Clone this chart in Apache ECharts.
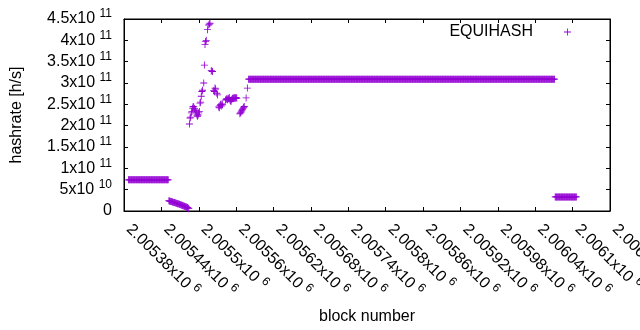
<!DOCTYPE html>
<html>
<head>
<meta charset="utf-8">
<title>EQUIHASH hashrate</title>
<script src="https://cdn.jsdelivr.net/npm/echarts@6/dist/echarts.min.js"></script>
<style>
  html, body { margin: 0; padding: 0; background: #fff; }
  #chart { width: 640px; height: 330px; }
</style>
</head>
<body>
<div id="chart"></div>
<script>
// tick labels (x is block number / 10^6, y is hashrate)
const xTickLabels = ['2.00538', '2.00544', '2.0055', '2.00556', '2.00562', '2.00568', '2.00574',
  '2.0058', '2.00586', '2.00592', '2.00598', '2.00604', '2.0061', '2.00616'];
const yTickLabels = ['0', '5x10', '1x10', '1.5x10', '2x10', '2.5x10', '3x10', '3.5x10', '4x10', '4.5x10'];
const yTickExps = ['', '10', '11', '11', '11', '11', '11', '11', '11', '11'];

// stretches with the same hashrate on every block: [first block, last block, h/s]
const flatRuns = [
  [2005387, 2005451, 7.3e10],
  [2005580, 2006071, 3.09e11],
  [2006072, 2006106, 3.3e10]
];

// the slide after the first stretch
const dropBlocks = [2005452, 2005453, 2005454, 2005455, 2005456, 2005457, 2005458, 2005459, 2005460,
  2005461, 2005462, 2005463, 2005464, 2005465, 2005466, 2005467, 2005468, 2005469, 2005470, 2005471,
  2005472, 2005473, 2005474, 2005475, 2005476, 2005477, 2005478, 2005479, 2005480, 2005481, 2005482,
  2005483, 2005484];
const dropRates = [2.40e10, 2.36e10, 2.31e10, 2.25e10, 2.22e10, 2.17e10, 2.12e10, 2.07e10, 2.02e10,
  1.98e10, 1.93e10, 1.88e10, 1.82e10, 1.78e10, 1.72e10, 1.68e10, 1.62e10, 1.57e10, 1.52e10, 1.47e10,
  1.42e10, 1.36e10, 1.31e10, 1.25e10, 1.2e10, 1.14e10, 1.08e10, 1.02e10, 0.95e10, 0.88e10, 0.8e10,
  0.7e10, 0.55e10];

// the unstable part before the long flat stretch
const wildBlocks = [
  2005485, 2005486, 2005487, 2005488, 2005489, 2005490, 2005491, 2005492, 2005493, 2005494,
  2005495, 2005496, 2005497, 2005498, 2005499, 2005500, 2005501, 2005502, 2005503, 2005504,
  2005505, 2005506, 2005508, 2005509, 2005510, 2005511, 2005512, 2005514, 2005516, 2005517,
  2005518, 2005520, 2005521, 2005522, 2005524, 2005525, 2005526, 2005527, 2005529, 2005530,
  2005532, 2005533, 2005534, 2005535, 2005536, 2005537, 2005538, 2005543, 2005544, 2005545,
  2005546, 2005547, 2005548, 2005549, 2005550, 2005551, 2005552, 2005553, 2005554, 2005555,
  2005556, 2005557, 2005558, 2005559, 2005560, 2005561, 2005566, 2005567, 2005568, 2005569,
  2005570, 2005571, 2005572, 2005573, 2005576, 2005578
];
const wildRates = [
  2.04e11, 2.18e11, 2.2e11, 2.3e11, 2.33e11, 2.41e11, 2.45e11, 2.44e11, 2.4e11, 2.37e11,
  2.35e11, 2.3e11, 2.25e11, 2.22e11, 2.25e11, 2.3e11, 2.33e11, 2.53e11, 2.55e11, 2.69e11,
  2.8e11, 2.83e11, 3.0e11, 3.42e11, 3.9e11, 3.97e11, 4.0e11, 4.25e11, 4.36e11, 4.38e11,
  4.4e11, 3.29e11, 3.28e11, 3.27e11, 2.82e11, 2.8e11, 2.88e11, 2.86e11, 2.76e11, 2.72e11,
  2.44e11, 2.42e11, 2.47e11, 2.5e11, 2.46e11, 2.51e11, 2.49e11, 2.6e11, 2.62e11, 2.63e11,
  2.61e11, 2.64e11, 2.63e11, 2.66e11, 2.6e11, 2.58e11, 2.57e11, 2.62e11, 2.64e11, 2.63e11,
  2.65e11, 2.66e11, 2.64e11, 2.65e11, 2.66e11, 2.64e11, 2.28e11, 2.3e11, 2.32e11, 2.35e11,
  2.38e11, 2.4e11, 2.43e11, 2.45e11, 2.65e11, 2.88e11
];

let points = [];
flatRuns.forEach(function (r) {
  for (let b = r[0]; b <= r[1]; b++) points.push([b, r[2]]);
});
dropBlocks.forEach(function (b, i) { points.push([b, dropRates[i]]); });
wildBlocks.forEach(function (b, i) { points.push([b, wildRates[i]]); });

// gnuplot style "+" point
const plus = 'path://M0,4.4H10V5.6H0Z M4.4,0H5.6V10H4.4Z';
const font = 'Liberation Sans, Arial, sans-serif';
const rich = {
  m: { fontSize: 16, fontFamily: font, color: '#000' },
  xm: { fontSize: 16, fontFamily: font, color: '#000', padding: [0, 0, 0, 7] },
  s: { fontSize: 12, fontFamily: font, color: '#000', padding: [0, 0, 10, 0] }
};

let chart = echarts.init(document.getElementById('chart'));
chart.setOption({
  animation: false,
  grid: {
    left: 124, right: 30, top: 19, bottom: 119,
    containLabel: false, outerBoundsMode: 'none',
    show: true, borderColor: '#000', borderWidth: 1
  },
  legend: {
    data: ['EQUIHASH'],
    right: 64, top: 19,
    align: 'right',
    icon: plus,
    itemWidth: 7, itemHeight: 7,
    itemStyle: { color: '#9400d3' },
    textStyle: { fontSize: 16, fontFamily: font, color: '#000', padding: [0, 26, 0, 0] }
  },
  xAxis: [{
    type: 'value',
    min: 2005380, max: 2006160, interval: 60,
    name: 'block number',
    nameLocation: 'middle',
    nameGap: 98,
    nameTextStyle: { fontSize: 16, fontFamily: font, color: '#000' },
    axisLine: { show: true, onZero: false, lineStyle: { color: '#000', width: 1 } },
    axisTick: { show: true, inside: true, length: 4, lineStyle: { color: '#000' } },
    splitLine: { show: false },
    axisLabel: {
      rotate: -45, margin: 11,
      showMinLabel: true, showMaxLabel: true,
      formatter: function (v) {
        let i = Math.round((v - 2005380) / 60);
        return '{xm|' + xTickLabels[i] + 'x10 }{s|6}';
      },
      rich: rich
    }
  }, {
    type: 'value', position: 'top',
    min: 2005380, max: 2006160, interval: 60,
    axisLine: { show: true, onZero: false, lineStyle: { color: '#000' } },
    axisTick: { show: true, inside: true, length: 4, lineStyle: { color: '#000' } },
    axisLabel: { show: false },
    splitLine: { show: false }
  }],
  yAxis: [{
    type: 'value',
    min: 0, max: 4.5e11, interval: 5e10,
    name: 'hashrate [h/s]',
    nameLocation: 'middle',
    nameRotate: 90,
    nameGap: 99,
    nameTextStyle: { fontSize: 16, fontFamily: font, color: '#000' },
    axisLine: { show: true, onZero: false, lineStyle: { color: '#000', width: 1 } },
    axisTick: { show: true, inside: true, length: 4, lineStyle: { color: '#000' } },
    splitLine: { show: false },
    axisLabel: {
      margin: 12,
      formatter: function (v) {
        let i = Math.round(v / 5e10);
        if (!yTickExps[i]) return '{m|' + yTickLabels[i] + '}';
        return '{m|' + yTickLabels[i] + ' }{s|' + yTickExps[i] + '}';
      },
      rich: rich
    }
  }, {
    type: 'value', position: 'right',
    min: 0, max: 4.5e11, interval: 5e10,
    axisLine: { show: true, onZero: false, lineStyle: { color: '#000' } },
    axisTick: { show: true, inside: true, length: 4, lineStyle: { color: '#000' } },
    axisLabel: { show: false },
    splitLine: { show: false }
  }],
  series: [{
    name: 'EQUIHASH',
    type: 'scatter',
    symbol: plus,
    symbolSize: 7,
    itemStyle: { color: '#9400d3', opacity: 1 },
    data: points
  }]
});
</script>
</body>
</html>
